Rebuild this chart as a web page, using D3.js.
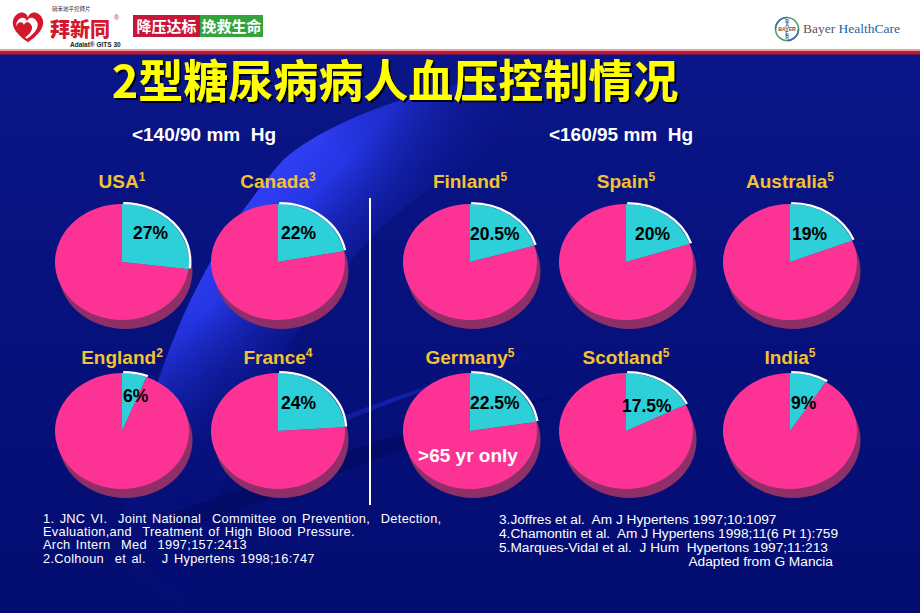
<!DOCTYPE html>
<html><head><meta charset="utf-8">
<script src="https://cdn.jsdelivr.net/npm/d3@7"></script>
<style>body{margin:0;background:#fff;overflow:hidden} svg{display:block} text{white-space:pre}</style>
</head><body>
<svg id="c" width="920" height="613"></svg>
<script>
// ---------- DATA ----------
const countries = ["USA","Canada","Finland","Spain","Australia","England","France","Germany","Scotland","India"];
const refs      = ["1","3","5","5","5","2","4","5","5","5"];
const controlled = [27,22,20.5,20,19,6,24,22.5,17.5,9];   // % BP controlled
const pctLabels = ["27%","22%","20.5%","20%","19%","6%","24%","22.5%","17.5%","9%"];
const groupLabels = ["<140/90 mm  Hg","<160/95 mm  Hg"];
const title = "2型糖尿病病人血压控制情况";
const noteGermany = ">65 yr only";
const footLeft = ["1. JNC VI.  Joint National  Committee on Prevention,  Detection,",
                  "Evaluation,and  Treatment of High Blood Pressure.",
                  "Arch Intern  Med  1997;157:2413",
                  "2.Colhoun  et al.   J Hypertens 1998;16:747"];
const footRight = ["3.Joffres et al.  Am J Hypertens 1997;10:1097",
                   "4.Chamontin et al.  Am J Hypertens 1998;11(6 Pt 1):759",
                   "5.Marques-Vidal et al.  J Hum  Hypertons 1997;11:213"];
const adapted = "Adapted from G Mancia";

// ---------- LAYOUT ----------
const W = 920, H = 613;
const gridCol = [0,1,2,3,4,0,1,2,3,4];
const gridRow = [0,0,0,0,0,1,1,1,1,1];
const xCol = d3.scaleOrdinal().domain([0,1,2,3,4]).range([122,278,470,626,790]);
const yRow = d3.scaleOrdinal().domain([0,1]).range([262,431]);
const labelY = d3.scaleOrdinal().domain([0,1]).range([188,364]);
const RX = 67, RY = 58;
const lblDx = [11,3,0,9,2,1,3,0,-4,1];
const lblDy = [-23,-23,-22,-22,-22,-29,-22,-22,-19,-22];

const svg = d3.select("#c");
const defs = svg.append("defs");
const sh = defs.append("filter").attr("id","tshadow").attr("x","-5%").attr("y","-20%").attr("width","110%").attr("height","140%");
sh.append("feDropShadow").attr("dx",2).attr("dy",2).attr("stdDeviation",0.6).attr("flood-color","#000").attr("flood-opacity",0.9);

// ---------- BACKGROUND ----------
svg.append("rect").attr("width",W).attr("height",H).attr("fill","#ffffff");
const bgG = defs.append("linearGradient").attr("id","bg").attr("x1",0).attr("y1",0).attr("x2",0).attr("y2",1);
bgG.append("stop").attr("offset",0).attr("stop-color","#0a1688");
bgG.append("stop").attr("offset",1).attr("stop-color","#030c70");
svg.append("rect").attr("y",54).attr("width",W).attr("height",H-54).attr("fill","url(#bg)");

// swoosh gradient (across band)
const sg = defs.append("linearGradient").attr("id","sw").attr("gradientUnits","userSpaceOnUse")
  .attr("x1",200).attr("y1",200).attr("x2",330).attr("y2",320);
sg.append("stop").attr("offset",0).attr("stop-color","#3646ff");
sg.append("stop").attr("offset",0.45).attr("stop-color","#2636e4");
sg.append("stop").attr("offset",1).attr("stop-color","#0c1890").attr("stop-opacity",0.3);
// fade along band
const mg = defs.append("linearGradient").attr("id","swm").attr("gradientUnits","userSpaceOnUse")
  .attr("x1",130).attr("y1",600).attr("x2",560).attr("y2",70);
mg.append("stop").attr("offset",0).attr("stop-color","#fff").attr("stop-opacity",0.15);
mg.append("stop").attr("offset",0.4).attr("stop-color","#fff").attr("stop-opacity",1);
mg.append("stop").attr("offset",0.7).attr("stop-color","#fff").attr("stop-opacity",1);
mg.append("stop").attr("offset",1).attr("stop-color","#fff").attr("stop-opacity",0.15);
defs.append("mask").attr("id","swmask").append("rect").attr("width",W).attr("height",H).attr("fill","url(#swm)");

svg.append("path")
  .attr("d","M 110,613 C 130,460 160,300 283,160 C 340,110 470,70 640,56 L 700,70 C 560,100 500,130 473,160 C 430,190 400,205 360,250 C 300,320 230,420 185,613 Z")
  .attr("fill","url(#sw)").attr("mask","url(#swmask)");

// lower subtle wave
const lw = defs.append("linearGradient").attr("id","lw").attr("gradientUnits","userSpaceOnUse")
  .attr("x1",180).attr("y1",500).attr("x2",620).attr("y2",330);
lw.append("stop").attr("offset",0).attr("stop-color","#1b2ac8").attr("stop-opacity",0.0);
lw.append("stop").attr("offset",0.5).attr("stop-color","#1b2ac8").attr("stop-opacity",0.6);
lw.append("stop").attr("offset",1).attr("stop-color","#1b2ac8").attr("stop-opacity",0.0);
svg.append("path")
  .attr("d","M 170,505 C 280,430 420,380 640,330 C 500,360 380,400 190,490 Z")
  .attr("fill","url(#lw)");
svg.append("path")
  .attr("d","M 175,512 C 300,470 420,420 560,395 C 420,440 300,490 180,530 Z")
  .attr("fill","#010858").attr("opacity",0.5);

// ---------- HEADER ----------
svg.append("rect").attr("width",W).attr("height",49).attr("fill","#ffffff");
svg.append("rect").attr("y",49).attr("width",W).attr("height",2).attr("fill","#eaa0a8");
svg.append("rect").attr("y",51).attr("width",W).attr("height",3.5).attr("fill","#c4172e");

function heart(cx, cy, s){
  const p = [[0,0.9],[-0.9,0.3],[-1.1,-0.3],[-0.7,-0.7],[-0.4,-1],[0,-0.8],[0,-0.5],[0,-0.8],[0.4,-1],[0.7,-0.7],[1.1,-0.3],[0.9,0.3],[0,0.9]]
    .map(([x,y])=>[cx+x*s, cy+y*s]);
  return `M${p[0]} C${p[1]} ${p[2]} ${p[3]} C${p[4]} ${p[5]} ${p[6]} C${p[7]} ${p[8]} ${p[9]} C${p[10]} ${p[11]} ${p[12]}Z`;
}
svg.append("path").attr("d",heart(28,27,17)).attr("fill","#d3182c");
svg.append("path").attr("d",heart(27,28,12)).attr("fill","#ffffff");
svg.append("path").attr("d",heart(24,30,9)).attr("fill","#d3182c");
svg.append("text").attr("x",52).attr("y",11).attr("font-family","Noto Sans CJK SC").attr("font-size",5.5)
  .attr("fill","#333").text("硝苯地平控释片");
svg.append("text").attr("x",50).attr("y",36.5).attr("font-family","Noto Sans CJK SC").attr("font-weight","900")
  .attr("font-size",20).attr("fill","#d3182c").text("拜新同");
svg.append("text").attr("x",114).attr("y",20).attr("font-family","Liberation Sans").attr("font-size",7)
  .attr("fill","#d3182c").text("®");
svg.append("text").attr("x",70).attr("y",47).attr("font-family","Liberation Sans").attr("font-weight","bold")
  .attr("font-size",6.5).attr("fill","#222").text("Adalat® GITS 30");
svg.append("rect").attr("x",133).attr("y",15).attr("width",67).attr("height",22).attr("fill","#c8163a");
svg.append("rect").attr("x",200).attr("y",15).attr("width",63).attr("height",22).attr("fill","#35a33c");
svg.append("text").attr("x",166.5).attr("y",32).attr("text-anchor","middle").attr("font-family","Noto Sans CJK SC")
  .attr("font-weight","bold").attr("font-size",15).attr("fill","#fff").text("降压达标");
svg.append("text").attr("x",231.5).attr("y",32).attr("text-anchor","middle").attr("font-family","Noto Sans CJK SC")
  .attr("font-weight","bold").attr("font-size",15).attr("fill","#fff").text("挽救生命");

// Bayer logo
const bl = svg.append("g").attr("transform","translate(787,29)");
bl.append("circle").attr("r",11.5).attr("fill","#fff").attr("stroke","#5aa06a").attr("stroke-width",1.6);
bl.append("circle").attr("r",11.5).attr("fill","none").attr("stroke","#3b6fb0").attr("stroke-width",1.6)
  .attr("stroke-dasharray","18 18");
const bx = bl.append("text").attr("font-family","Liberation Sans").attr("font-weight","bold")
  .attr("font-size",5.2).attr("fill","#555").attr("text-anchor","middle");
bx.append("tspan").attr("x",0).attr("y",2).text("BAYER");
[["B",-6.5],["A",-2.3],["E",6.1],["R",10.3]].forEach(([ch,y])=>bx.append("tspan").attr("x",0).attr("y",y).text(ch));
const bt = svg.append("text").attr("x",803).attr("y",33).attr("font-family","Liberation Serif").attr("font-size",13.5);
bt.append("tspan").attr("fill","#5a5a5a").text("Bayer ");
bt.append("tspan").attr("fill","#1f5fa6").text("HealthCare");

// ---------- TITLE ----------
svg.append("text").attr("x",395).attr("y",98).attr("text-anchor","middle")
  .attr("font-family","Noto Sans CJK SC").attr("font-weight","bold").attr("font-size",45)
  .attr("fill","#ffff00").attr("filter","url(#tshadow)").text(title);

// group subtitles
const groupX = d3.scaleOrdinal().domain([0,1]).range([204,621]);
svg.selectAll("text.grp").data(groupLabels).join("text").attr("class","grp")
  .attr("x",(d,i)=>groupX(i)).attr("y",141).attr("text-anchor","middle")
  .attr("font-family","Liberation Sans").attr("font-weight","bold").attr("font-size",19)
  .attr("fill","#fff").text(d=>d);

// divider
svg.append("line").attr("x1",370).attr("x2",370).attr("y1",198).attr("y2",505)
  .attr("stroke","#fff").attr("stroke-width",2);

// ---------- PIES ----------
const pie = d3.pie().sort(null).value(d=>d);
const arc = d3.arc().innerRadius(0).outerRadius(RX);
const rim = d3.arc().innerRadius(RX).outerRadius(RX);
const colors = ["#2dcfd8","#fc3395"];

countries.forEach((c,i)=>{
  const cx = xCol(gridCol[i]), cy = yRow(gridRow[i]);
  const arcs = pie([controlled[i], 100-controlled[i]]);
  // shadow
  svg.append("ellipse").attr("cx",cx+3.5).attr("cy",cy+9).attr("rx",RX).attr("ry",RY).attr("fill","#8e2f67");
  const g = svg.append("g").attr("transform",`translate(${cx},${cy}) scale(1,${RY/RX})`);
  g.selectAll("path.s").data(arcs).join("path").attr("class","s")
    .attr("d",arc).attr("fill",(d,j)=>colors[j]);
  // white highlight rim on controlled slice
  g.append("path").attr("d",rim({startAngle:arcs[0].startAngle,endAngle:arcs[0].endAngle}))
    .attr("transform","translate(1.2,-1)")
    .attr("fill","none").attr("stroke","#fff").attr("stroke-width",2.4)
    .attr("vector-effect","non-scaling-stroke");
  // country label
  const t = svg.append("text").attr("x",cx).attr("y",labelY(gridRow[i]))
    .attr("text-anchor","middle").attr("font-family","Liberation Sans").attr("font-weight","bold")
    .attr("font-size",19).attr("fill","#f3c234");
  t.append("tspan").text(c);
  t.append("tspan").attr("font-size",12).attr("dy",-7).text(refs[i]);
  // percent label
  svg.append("text").attr("x",cx+lblDx[i]).attr("y",cy+lblDy[i])
    .attr("font-family","Liberation Sans").attr("font-weight","bold").attr("font-size",17.5)
    .attr("fill","#000").text(pctLabels[i]);
});
// Germany note
svg.append("text").attr("x",xCol(2)-2).attr("y",462).attr("text-anchor","middle")
  .attr("font-family","Liberation Sans").attr("font-weight","bold").attr("font-size",19)
  .attr("fill","#fff").text(noteGermany);

// ---------- FOOTNOTES ----------
svg.selectAll("text.fl").data(footLeft).join("text").attr("class","fl")
  .attr("x",43).attr("y",(d,i)=>523+i*13.2).attr("word-spacing",1.5).attr("letter-spacing",0.3)
  .attr("font-family","Liberation Sans").attr("font-size",12.8).attr("fill","#fff").text(d=>d);
svg.selectAll("text.fr").data(footRight).join("text").attr("class","fr")
  .attr("x",499).attr("y",(d,i)=>524+i*14)
  .attr("font-family","Liberation Sans").attr("font-size",13.7).attr("fill","#fff").text(d=>d);
svg.append("text").attr("x",833).attr("y",566).attr("text-anchor","end")
  .attr("font-family","Liberation Sans").attr("font-size",13.7).attr("fill","#fff").text(adapted);
</script>
</body></html>
